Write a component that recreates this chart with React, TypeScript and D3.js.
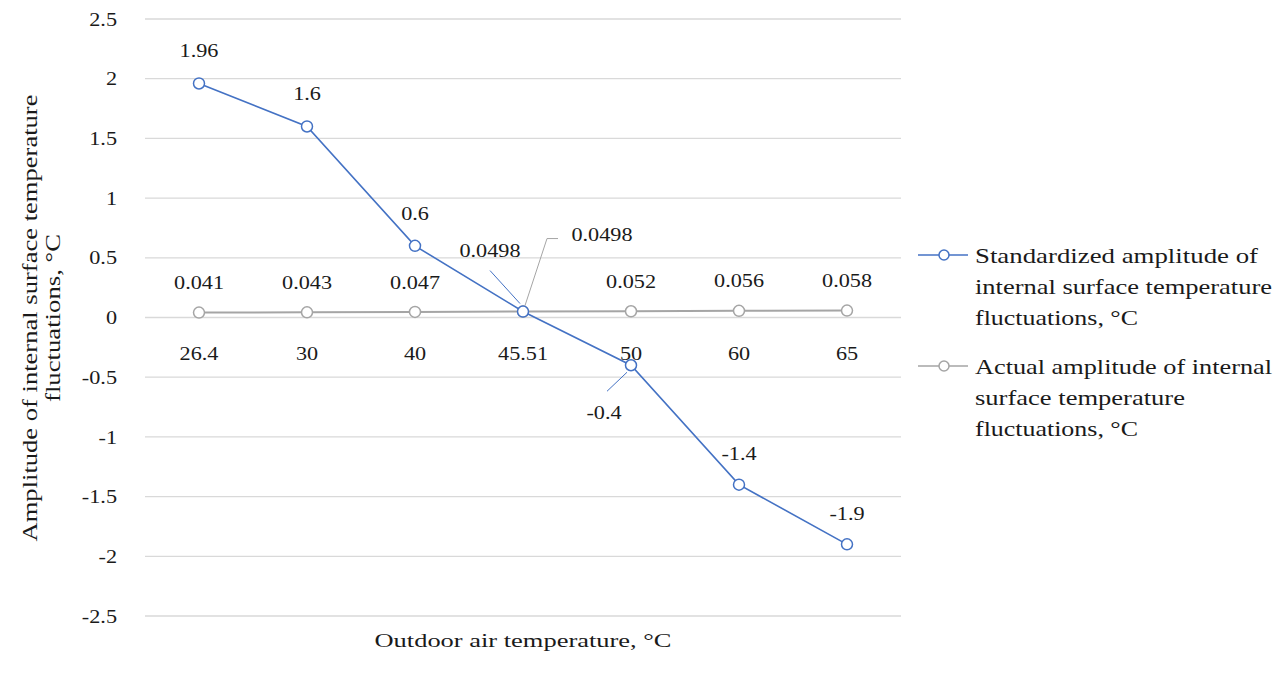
import React from "react";
import * as d3 from "d3";

const categories = ["26.4", "30", "40", "45.51", "50", "60", "65"];
const standardized = [1.96, 1.6, 0.6, 0.0498, -0.4, -1.4, -1.9];
const actual = [0.041, 0.043, 0.047, 0.0498, 0.052, 0.056, 0.058];
const yTicks = [2.5, 2, 1.5, 1, 0.5, 0, -0.5, -1, -1.5, -2, -2.5];
const seriesNames = [
  ["Standardized amplitude of", "internal surface temperature", "fluctuations, °C"],
  ["Actual amplitude of internal", "surface temperature", "fluctuations, °C"],
];
const yTitle = ["Amplitude of internal surface temperature", "fluctuations, °C"];
const xTitle = "Outdoor air temperature, °C";

// label placement offsets (dx, dy) relative to each point
const blueOffsets: [number, number][] = [
  [0, -33], [0, -33], [0, -33], [-33, -61], [-27, 47], [0, -31], [0, -31],
];
const grayOffsets: [number, number][] = [
  [0, -30], [0, -30], [0, -30], [79, -77], [0, -30], [0, -30], [0, -30],
];
const legendWidths = [
  [283, 297, 163],
  [297, 210, 163],
];

const W = 1285;
const H = 673;
const FONT = "'Liberation Serif', 'Times New Roman', serif";
const BLUE = "#4472C4";
const GRAY = "#A5A5A5";
const TXT = "#1a1a1a";
const SX = 1.17;

function T({
  x,
  y,
  children,
  anchor = "middle",
  size = 19,
}: {
  x: number;
  y: number;
  children: React.ReactNode;
  anchor?: "start" | "middle" | "end";
  size?: number;
}) {
  return (
    <text
      transform={`translate(${x},${y}) scale(${SX},1)`}
      dy="0.35em"
      textAnchor={anchor}
      fontFamily={FONT}
      fontSize={size}
      fill={TXT}
    >
      {children}
    </text>
  );
}

export default function App() {
  const x = d3.scaleBand<string>().domain(categories).range([145, 901]);
  const y = d3.scaleLinear().domain([-2.5, 2.5]).range([616, 19]);
  const cx = (c: string) => (x(c) as number) + x.bandwidth() / 2;

  const line = d3
    .line<number>()
    .x((_, i) => cx(categories[i]))
    .y((d) => y(d));

  const px = cx("45.51");
  const py = y(0.0498);
  const qx = cx("50");
  const qy = y(-0.4);

  return (
    <svg width={W} height={H} style={{ position: "absolute", left: 0, top: 0, background: "#fff" }}>
      <rect width={W} height={H} fill="#fff" />
      {yTicks.map((t) => (
        <g key={t}>
          <line x1={145} x2={901} y1={y(t)} y2={y(t)} stroke="#d9d9d9" strokeWidth={1.3} />
          <T x={117} y={y(t)} anchor="end">
            {t}
          </T>
        </g>
      ))}
      {categories.map((c) => (
        <T key={c} x={cx(c)} y={y(0) + 36}>
          {c}
        </T>
      ))}

      {/* leader lines */}
      <line x1={px - 33} y1={py - 41} x2={px - 3} y2={py - 8} stroke={BLUE} strokeWidth={1} />
      <polyline
        points={`${px + 2},${py - 6} ${px + 24},${py - 73} ${px + 35},${py - 73}`}
        fill="none"
        stroke={GRAY}
        strokeWidth={1}
      />
      <line x1={qx - 24} y1={qy + 26} x2={qx - 4} y2={qy + 7} stroke={BLUE} strokeWidth={1} />

      <path d={line(actual) as string} fill="none" stroke={GRAY} strokeWidth={2} />
      {actual.map((v, i) => (
        <circle key={i} cx={cx(categories[i])} cy={y(v)} r={5.5} fill="#fff" stroke={GRAY} strokeWidth={1.5} />
      ))}
      <path d={line(standardized) as string} fill="none" stroke={BLUE} strokeWidth={1.6} />
      {standardized.map((v, i) => (
        <circle key={i} cx={cx(categories[i])} cy={y(v)} r={5.5} fill="#fff" stroke={BLUE} strokeWidth={1.5} />
      ))}

      {actual.map((v, i) => (
        <T key={"a" + i} x={cx(categories[i]) + grayOffsets[i][0]} y={y(v) + grayOffsets[i][1]}>
          {v}
        </T>
      ))}
      {standardized.map((v, i) => (
        <T key={"s" + i} x={cx(categories[i]) + blueOffsets[i][0]} y={y(v) + blueOffsets[i][1]}>
          {v}
        </T>
      ))}

      <text transform={`translate(37,318) rotate(-90)`} textAnchor="middle" fontFamily={FONT} fontSize={20} fill={TXT}>
        <tspan x={0} y={0} textLength={447} lengthAdjust="spacingAndGlyphs">
          {yTitle[0]}
        </tspan>
        <tspan x={0} y={23} textLength={168} lengthAdjust="spacingAndGlyphs">
          {yTitle[1]}
        </tspan>
      </text>
      <text
        x={523}
        y={640}
        dy="0.35em"
        textAnchor="middle"
        fontFamily={FONT}
        fontSize={19}
        fill={TXT}
        textLength={297}
        lengthAdjust="spacingAndGlyphs"
      >
        {xTitle}
      </text>

      {seriesNames.map((lines, si) => {
        const top = si === 0 ? 255 : 366;
        const col = si === 0 ? BLUE : GRAY;
        return (
          <g key={si}>
            <line x1={918} x2={968} y1={top} y2={top} stroke={col} strokeWidth={1.6} />
            <circle cx={944} cy={top} r={5} fill="#fff" stroke={col} strokeWidth={1.5} />
            {lines.map((l, li) => (
              <text
                key={li}
                x={975}
                y={top + li * 31}
                dy="0.35em"
                fontFamily={FONT}
                fontSize={22}
                fill={TXT}
                textLength={legendWidths[si][li]}
                lengthAdjust="spacingAndGlyphs"
              >
                {l}
              </text>
            ))}
          </g>
        );
      })}
    </svg>
  );
}
